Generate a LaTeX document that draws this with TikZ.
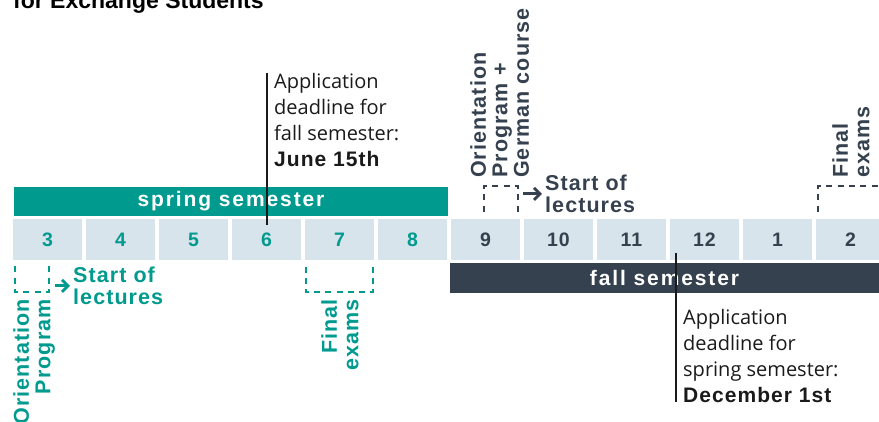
\documentclass[tikz,border=0pt]{standalone}
\usepackage{fontspec}
\setmainfont{Liberation Sans}
\newfontfamily\notefont{Open Sans}
\newfontfamily\labelfont{Liberation Sans}[LetterSpace=5]
\newfontfamily\barfont{Liberation Sans}[LetterSpace=9]
\usetikzlibrary{arrows.meta,positioning}
\definecolor{springcolor}{RGB}{0,154,143}
\definecolor{fallcolor}{RGB}{54,65,79}
\definecolor{cellcolor}{RGB}{216,228,236}
\definecolor{inkcolor}{RGB}{26,26,26}

\begin{document}
\begin{tikzpicture}[
    x=1pt, y=-1pt,
    semesterbar/.style={minimum height=30pt, inner sep=0pt, text=white, font=\barfont\bfseries\fontsize{21}{21}\selectfont},
    monthcell/.style={fill=cellcolor, minimum width=69pt, minimum height=41pt, inner sep=0pt, font=\labelfont\bfseries\fontsize{19.5}{19.5}\selectfont},
    notetext/.style={anchor=north west, inner sep=0pt, align=left, text=inkcolor, font=\notefont\fontsize{20}{26}\selectfont},
    eventlabel/.style={inner sep=0pt, font=\labelfont\bfseries\fontsize{21.5}{21.5}\selectfont},
    bracketline/.style={line width=2.8pt, dash pattern=on 6pt off 5.33pt, dash phase=10pt},
    widebracket/.style={line width=2.8pt, dash pattern=on 6pt off 5.17pt, dash phase=9.5pt},
    deadlineline/.style={line width=1.5pt, inkcolor},
    pointarrow/.style={line width=2.8pt, -{Straight Barb[length=6pt,width=12pt]}, shorten >=3pt}
]
    \useasboundingbox (0,0) rectangle (879,422);
    \clip (0,0) rectangle (879,422);

    % Title (cut at the top edge)
    \node[anchor=base west, inner sep=0pt, font=\bfseries\fontsize{23}{23}\selectfont] (title) at (13,9) {for Exchange Students};

    % Semester bars
    \node[semesterbar, fill=springcolor, minimum width=434pt, minimum height=29pt] (spring) at (231,201.5) {spring semester};
    \node[semesterbar, fill=fallcolor, minimum width=429pt] (fall) at (664.5,278) {fall semester};

    % Month cells
    \foreach \m [count=\i from 0] in {3,4,5,6,7,8}
        \node[monthcell, text=springcolor] (c\i) at (47.5+73*\i, 239.5) {\m};
    \foreach \m [count=\i from 6] in {9,10,11,12,1,2}
        \node[monthcell, text=fallcolor] (c\i) at (47.5+73*\i, 239.5) {\m};

    % Application deadlines
    \coordinate (falltop) at (267,73);
    \coordinate (fallend) at (267,225);
    \draw[deadlineline] (falltop) -- (fallend);
    \node[notetext] (falldl) at (274,73) {Application\\deadline for\\fall semester:\\{\labelfont\bfseries\fontsize{21}{26}\selectfont June 15th}};

    \coordinate (springtop) at (676,253);
    \coordinate (springend) at (676,402);
    \draw[deadlineline] (springtop) -- (springend);
    \node[notetext] (springdl) at (683,309) {Application\\deadline for\\spring semester:\\{\labelfont\bfseries\fontsize{21}{26}\selectfont December 1st}};

    % Spring semester events
    \draw[bracketline, springcolor] (15,265) -- (15,292) -- (49,292) -- (49,265);
    \node[eventlabel, text=springcolor, rotate=90, anchor=north east, align=right] (sorient) at (13,299) {Orientation\\Program};
    \node[eventlabel, text=springcolor, anchor=north west, align=left] (slect) at (73,267) {Start of\\lectures};
    \coordinate (sarrow) at ([xshift=-18pt]slect.west);
    \draw[pointarrow, springcolor] (sarrow) -- (slect.west);

    \draw[widebracket, springcolor] (306,265) -- (306,292) -- (373,292) -- (373,265);
    \node[eventlabel, text=springcolor, rotate=90, anchor=north east, align=right] (sfinal) at (321,299) {Final\\exams};

    % Fall semester events
    \draw[bracketline, fallcolor] (484,213) -- (484,186) -- (518,186) -- (518,213);
    \node[eventlabel, text=fallcolor, rotate=90, anchor=north west, align=left] (forient) at (470,178) {Orientation\\Program +\\German course};
    \node[eventlabel, text=fallcolor, anchor=north west, align=left] (flect) at (545,175) {Start of\\lectures};
    \coordinate (farrow) at ([xshift=-22pt]flect.west);
    \draw[pointarrow, fallcolor] (farrow) -- (flect.west);

    \draw[bracketline, fallcolor] (818,213) -- (818,186) -- (895,186);
    \node[eventlabel, text=fallcolor, rotate=90, anchor=north west, align=left] (ffinal) at (832,178) {Final\\exams};
\end{tikzpicture}
\end{document}
